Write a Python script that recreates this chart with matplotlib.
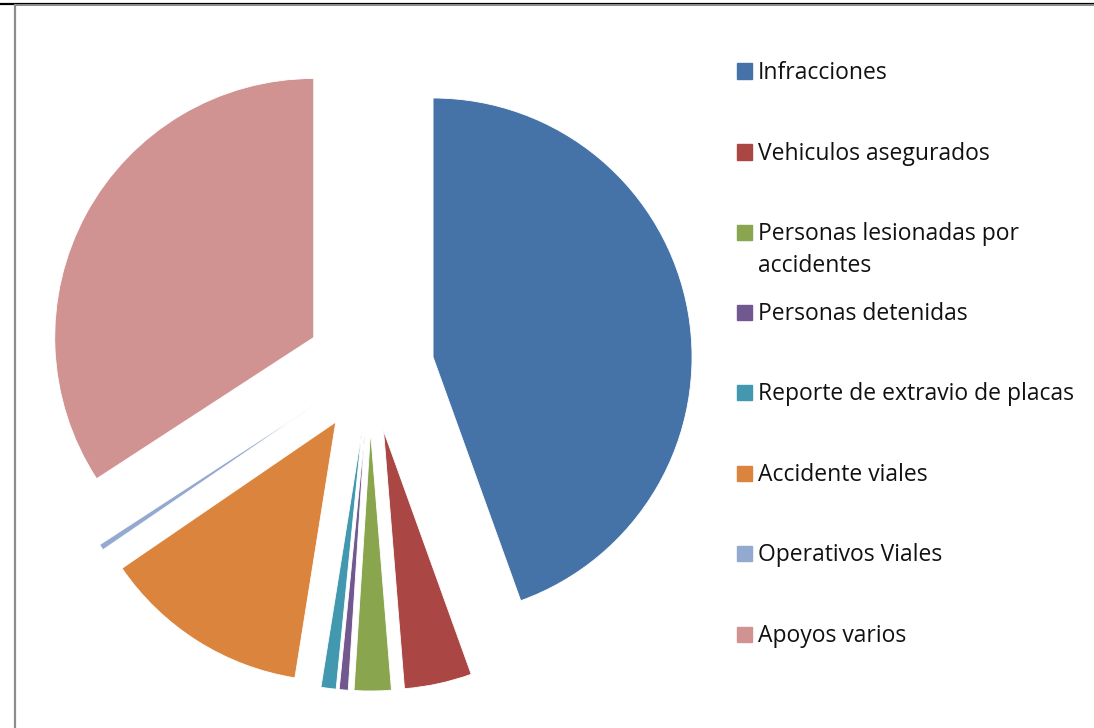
import textwrap

import matplotlib
matplotlib.use("Agg")
import matplotlib.pyplot as plt
from matplotlib.patches import Rectangle
from matplotlib.lines import Line2D

# ---------------------------------------------------------------------------
# data (share in %)
# ---------------------------------------------------------------------------
labels = [
    "Infracciones",
    "Vehiculos asegurados",
    "Personas lesionadas por accidentes",
    "Personas detenidas",
    "Reporte de extravio de placas",
    "Accidente viales",
    "Operativos Viales",
    "Apoyos varios",
]
shares = [44.4, 4.2, 2.3, 0.56, 0.94, 12.9, 0.37, 34.1]
colors = ["#4572A7", "#AA4643", "#89A54E", "#71588F",
          "#4198AF", "#DB843D", "#93A9CF", "#D19392"]

# ---------------------------------------------------------------------------
# layout (pixels)
# ---------------------------------------------------------------------------
W, H = 1094, 728
CX, CY = 370, 368          # pie centre, from top-left
R_PX = 259                 # pie radius
EXPLODE = 64 / R_PX
LIM = 1.4
LINE_PX = 32               # baseline-to-baseline in wrapped legend labels

fig = plt.figure(figsize=(W / 100, H / 100), dpi=100)

side = 2 * LIM * R_PX
ax = fig.add_axes([(CX - LIM * R_PX) / W, (H - CY - LIM * R_PX) / H,
                   side / W, side / H])
ax.pie(shares, colors=colors, startangle=90, counterclock=False,
       explode=[EXPLODE] * len(shares), radius=1.0,
       wedgeprops=dict(edgecolor="white", linewidth=0.6))
ax.set_xlim(-LIM, LIM)
ax.set_ylim(-LIM, LIM)
ax.set_axis_off()

# legend, drawn by hand to match the spacing of the original
font = ["Open Sans", "DejaVu Sans"]
row_y = [71, 152, 232, 312, 392, 473, 553, 634]
for lab, col, y in zip(labels, colors, row_y):
    fig.patches.append(Rectangle((737 / W, (H - y - 7.5) / H), 15 / W, 15 / H,
                                 transform=fig.transFigure, color=col))
    txt = textwrap.fill(lab, 30)
    # 'baseline' aligns the last line, so push wrapped labels down
    base = y + 8 + LINE_PX * txt.count("\n")
    fig.text(758 / W, (H - base) / H, txt,
             fontsize=16.5, family=font, color="#111111",
             va="baseline", ha="left", linespacing=1.45)

# frame lines at the top / left edge
fig.add_artist(Line2D([0, 1], [(H - 3.5) / H] * 2, color="black", lw=1.6,
                      transform=fig.transFigure))
fig.add_artist(Line2D([15 / W, 1], [(H - 5) / H] * 2, color="#8c8c8c", lw=1.4,
                      transform=fig.transFigure))
fig.add_artist(Line2D([15 / W] * 2, [0, (H - 4.5) / H], color="#8c8c8c", lw=1.6,
                      transform=fig.transFigure))

fig.savefig("out.png", dpi=100)
